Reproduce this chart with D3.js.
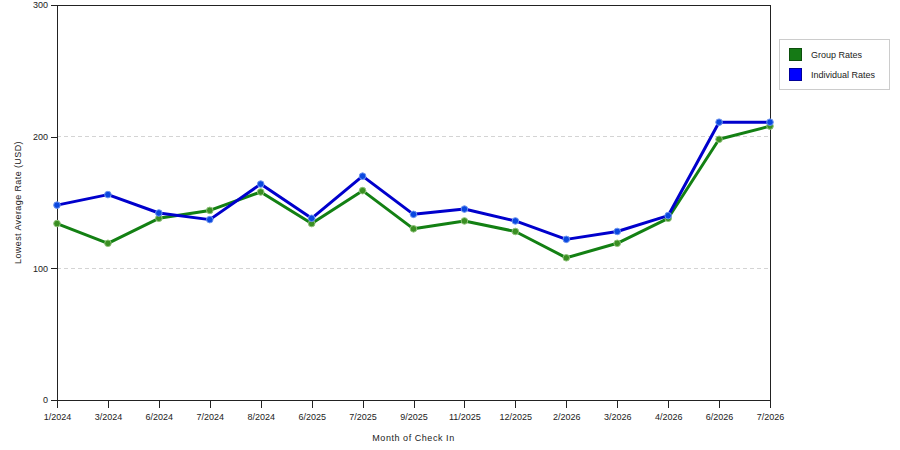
<!DOCTYPE html>
<html>
<head>
<meta charset="utf-8">
<script src="https://cdn.jsdelivr.net/npm/d3@7"></script>
<style>
    body { margin: 0; background: #fff; }
    svg { font-family: "Liberation Sans", Arial, sans-serif; }
</style>
</head>
<body>
<div id="chart"></div>
<script>
// months shown on the x axis
const months = ["1/2024", "3/2024", "6/2024", "7/2024", "8/2024", "6/2025", "7/2025", "9/2025",
    "11/2025", "12/2025", "2/2026", "3/2026", "4/2026", "6/2026", "7/2026"];

// lowest average rate (USD)
const groupRates = [134, 119, 138, 144, 158, 134, 159, 130, 136, 128, 108, 119, 138, 198, 208];
const individualRates = [148, 156, 142, 137, 164, 138, 170, 141, 145, 136, 122, 128, 140, 211, 211];

const yTicks = [0, 100, 200, 300];

const seriesNames = ["Group Rates", "Individual Rates"];

const width = 900, height = 450;
const margin = {top: 5, right: 130, bottom: 50, left: 57};
const innerW = 770 - margin.left;
const innerH = 400 - margin.top;

const svg = d3.select("#chart").append("svg")
    .attr("width", width)
    .attr("height", height);

const g = svg.append("g")
    .attr("transform", `translate(${margin.left},${margin.top})`);

const x = d3.scalePoint()
    .domain(months)
    .range([0, innerW]);

const y = d3.scaleLinear()
    .domain([0, 300])
    .range([innerH, 0]);

// dashed grid lines
g.append("g")
    .selectAll("line")
    .data(yTicks.filter(d => d > 0 && d < 300))
    .join("line")
    .attr("x1", 0)
    .attr("x2", innerW)
    .attr("y1", d => y(d))
    .attr("y2", d => y(d))
    .attr("stroke", "#d4d4d4")
    .attr("stroke-dasharray", "4,3")
    .attr("shape-rendering", "crispEdges");

// top + right border
g.append("path")
    .attr("d", `M0,0.5H${innerW}V${innerH}`)
    .attr("fill", "none")
    .attr("stroke", "#222")
    .attr("shape-rendering", "crispEdges");

const yAxis = g.append("g")
    .call(d3.axisLeft(y).tickValues(yTicks).tickSize(6).tickPadding(3));

const xAxis = g.append("g")
    .attr("transform", `translate(0,${innerH})`)
    .call(d3.axisBottom(x).tickSize(8).tickPadding(4).tickSizeOuter(0));

[yAxis, xAxis].forEach(ax => {
    ax.select(".domain").attr("stroke", "#222");
    ax.selectAll(".tick line").attr("stroke", "#222");
    ax.selectAll("text").attr("font-size", 9).attr("fill", "#222");
    ax.attr("shape-rendering", "crispEdges");
});
xAxis.selectAll("text").attr("dy", "0.9em");

// axis titles
svg.append("text")
    .attr("x", margin.left + innerW / 2)
    .attr("y", 441)
    .attr("text-anchor", "middle")
    .attr("font-size", 9)
    .attr("letter-spacing", 0.55)
    .attr("fill", "#222")
    .text("Month of Check In");

svg.append("text")
    .attr("transform", `translate(21,${margin.top + innerH / 2}) rotate(-90)`)
    .attr("text-anchor", "middle")
    .attr("font-size", 9)
    .attr("letter-spacing", 0.4)
    .attr("fill", "#222")
    .text("Lowest Average Rate (USD)");

const series = [
    {name: seriesNames[0], values: groupRates, line: "#138013", dot: "#3a8f22", halo: "#8fc27a", swatch: "#157a15", edge: "#0c4f0c"},
    {name: seriesNames[1], values: individualRates, line: "#0000cc", dot: "#0a48e0", halo: "#6f95f0", swatch: "#0000ff", edge: "#000099"}
];

const line = d3.line()
    .x((d, i) => x(months[i]))
    .y(d => y(d));

series.forEach(s => {
    g.append("path")
        .datum(s.values)
        .attr("d", line)
        .attr("fill", "none")
        .attr("stroke", s.line)
        .attr("stroke-width", 3)
        .attr("stroke-linejoin", "round");

    g.append("g")
        .selectAll("circle")
        .data(s.values)
        .join("circle")
        .attr("cx", (d, i) => x(months[i]))
        .attr("cy", d => y(d))
        .attr("r", 3.3)
        .attr("fill", s.dot)
        .attr("stroke", s.halo)
        .attr("stroke-width", 1);
});

// legend
const legend = svg.append("g").attr("transform", "translate(779,39)");
legend.append("rect")
    .attr("x", 0.5).attr("y", 0.5)
    .attr("width", 110).attr("height", 50)
    .attr("fill", "#fff")
    .attr("stroke", "#cccccc");

const item = legend.selectAll(".item")
    .data(series)
    .join("g")
    .attr("transform", (d, i) => `translate(10,${9 + i * 20})`);

item.append("rect")
    .attr("width", 12).attr("height", 12)
    .attr("x", 0.5).attr("y", 0.5)
    .attr("fill", d => d.swatch)
    .attr("stroke", d => d.edge);

item.append("text")
    .attr("x", 22)
    .attr("y", 10)
    .attr("font-size", 9)
    .attr("fill", "#222")
    .text(d => d.name);
</script>
</body>
</html>
